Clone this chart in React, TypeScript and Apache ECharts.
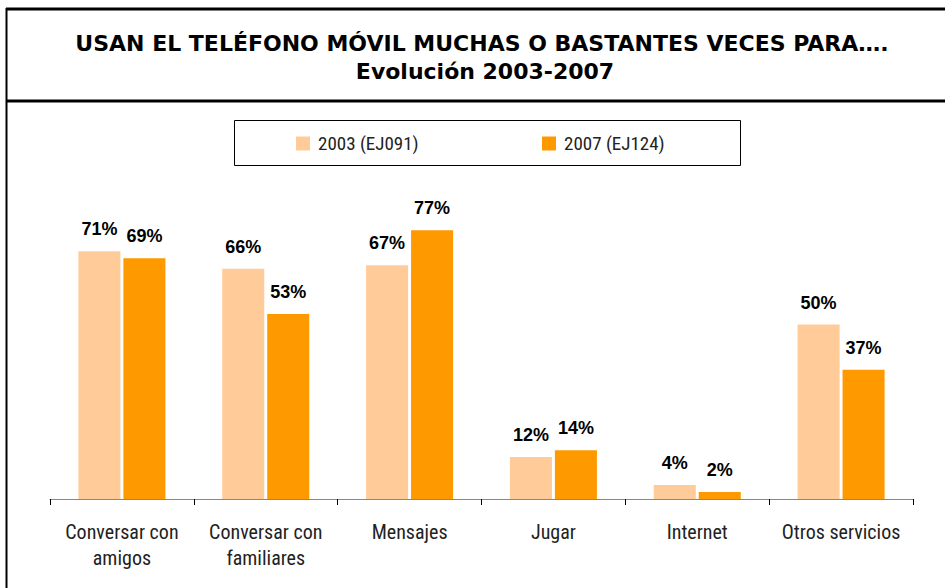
import React, { useEffect, useRef } from "react";
import * as echarts from "echarts";

const categories = ["Conversar con\namigos", "Conversar con\nfamiliares", "Mensajes", "Jugar", "Internet", "Otros servicios"];
const series2003 = [71, 66, 67, 12, 4, 50];
const series2007 = [69, 53, 77, 14, 2, 37];
const seriesNames = ["2003 (EJ091)", "2007 (EJ124)"];
const titleLines = ["USAN EL TELÉFONO MÓVIL MUCHAS O BASTANTES VECES PARA….", "Evolución 2003-2007"];

const NARROW = "'Liberation Sans Narrow', 'Arial Narrow', 'Roboto Condensed', sans-serif";
const TITLE_FONT = "'DejaVu Sans', sans-serif";

export default function App() {
  const ref = useRef<HTMLDivElement>(null);
  useEffect(() => {
    if (!ref.current) return;
    const chart = echarts.init(ref.current, undefined, { renderer: "svg" });
    const label = {
      show: true,
      position: "top",
      distance: 13,
      formatter: "{c}%",
      fontFamily: "Arial, 'Liberation Sans', sans-serif",
      fontWeight: "bold",
      fontSize: 18,
      color: "#000",
    };
    const legendText = { fontFamily: NARROW, fontSize: 19, color: "#222", padding: [0, 0, 0, 3] };
    chart.setOption({
      animation: false,
      backgroundColor: "#fff",
      legend: [
        {
          data: [seriesNames[0]],
          left: 296,
          top: 134,
          itemWidth: 14,
          itemHeight: 14,
          icon: "rect",
          textStyle: legendText,
          padding: 0,
        },
        {
          data: [seriesNames[1]],
          left: 542,
          top: 134,
          itemWidth: 14,
          itemHeight: 14,
          icon: "rect",
          textStyle: legendText,
          padding: 0,
        },
      ],
      graphic: [
        { type: "line", shape: { x1: 6, y1: 9, x2: 945, y2: 9 }, style: { stroke: "#000", lineWidth: 3 } },
        { type: "line", shape: { x1: 6, y1: 101, x2: 945, y2: 101 }, style: { stroke: "#000", lineWidth: 3 } },
        { type: "line", shape: { x1: 6.5, y1: 8, x2: 6.5, y2: 588 }, style: { stroke: "#000", lineWidth: 2 } },
        { type: "rect", shape: { x: 234.5, y: 120.5, width: 506, height: 45 }, style: { fill: "none", stroke: "#000", lineWidth: 1 }, z: -1 },
        {
          type: "text",
          x: 482,
          y: 43,
          style: {
            text: titleLines[0],
            fill: "#000",
            font: `bold 22px ${TITLE_FONT}`,
            textAlign: "center",
            textVerticalAlign: "middle",
          },
        },
        {
          type: "text",
          x: 485,
          y: 71,
          style: {
            text: titleLines[1],
            fill: "#000",
            font: `bold 22px ${TITLE_FONT}`,
            textAlign: "center",
            textVerticalAlign: "middle",
          },
        },
      ],
      grid: { left: 50, right: 32, top: 150, bottom: 89, containLabel: false },
      xAxis: {
        type: "category",
        data: categories,
        axisLine: { lineStyle: { color: "#888", width: 1 } },
        axisTick: { show: true, length: 6, lineStyle: { color: "#000" } },
        axisLabel: {
          fontFamily: NARROW,
          fontSize: 20,
          color: "#222",
          lineHeight: 26,
          margin: 20,
          interval: 0,
        },
      },
      yAxis: {
        type: "value",
        min: 0,
        max: 100,
        show: false,
        splitLine: { show: false },
      },
      series: [
        {
          name: seriesNames[0],
          type: "bar",
          data: series2003,
          itemStyle: { color: "#FFCC99" },
          barGap: "7%",
          barCategoryGap: "39.5%",
          label,
        },
        {
          name: seriesNames[1],
          type: "bar",
          data: series2007,
          itemStyle: { color: "#FF9900" },
          label,
        },
      ],
    });
    return () => chart.dispose();
  }, []);
  return <div ref={ref} style={{ width: 945, height: 588, position: "absolute", left: 0, top: 0 }} />;
}
